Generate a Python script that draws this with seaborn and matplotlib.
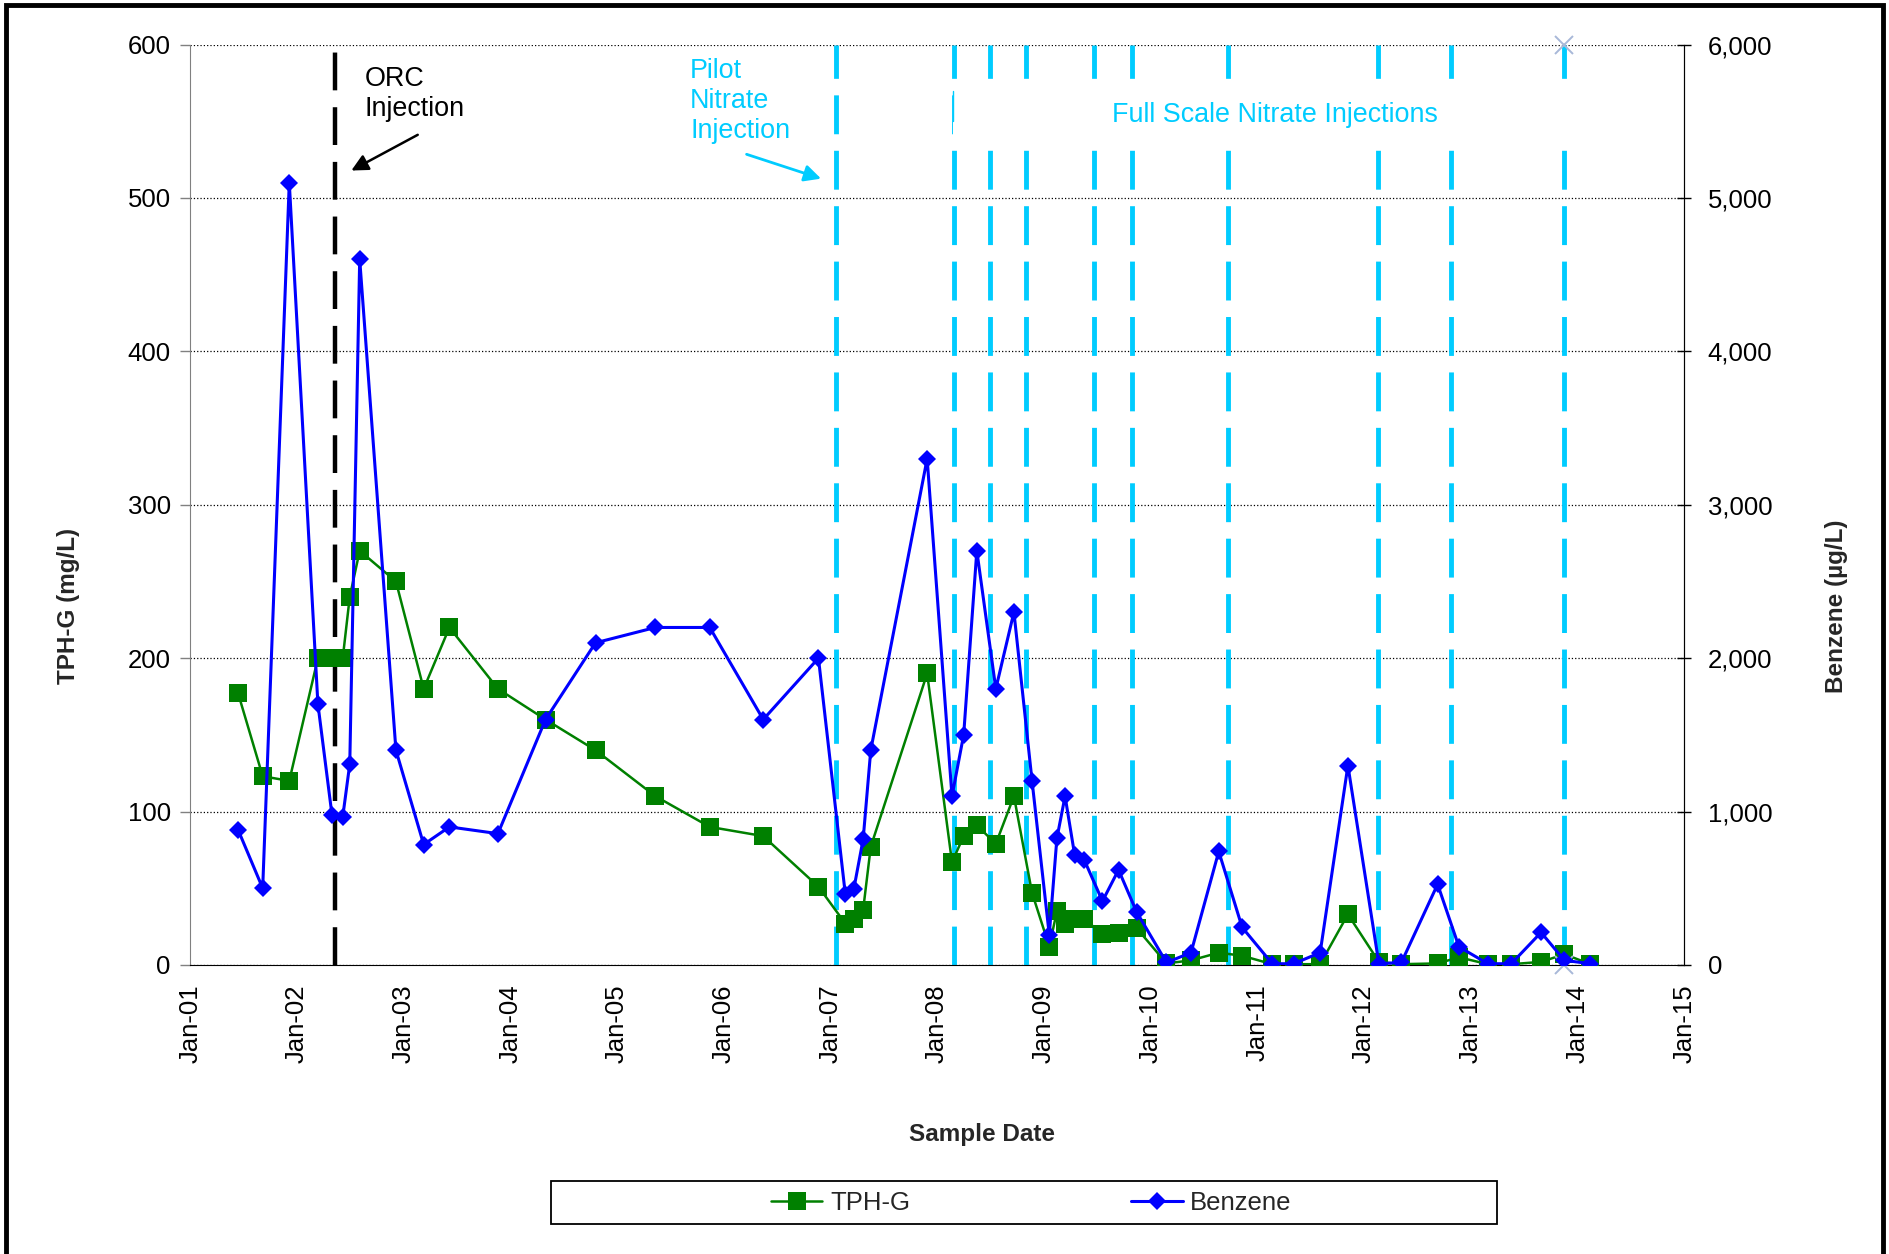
import matplotlib
matplotlib.use("Agg")
import matplotlib.pyplot as plt
import matplotlib.dates as mdates
import matplotlib.ticker as mticker
from matplotlib.lines import Line2D
from matplotlib.patches import Rectangle
import seaborn as sns
import pandas as pd

# sample dates (shared by both analytes)
sample_dates = [
    "2001-06-14", "2001-09-06", "2001-12-06", "2002-03-14", "2002-05-01",
    "2002-06-07", "2002-07-01", "2002-08-04", "2002-12-06", "2003-03-11",
    "2003-06-07", "2003-11-20", "2004-05-01", "2004-10-19", "2005-05-12",
    "2005-11-14", "2006-05-16", "2006-11-21", "2007-02-21", "2007-03-22",
    "2007-04-23", "2007-05-19", "2007-11-28", "2008-02-21", "2008-04-01",
    "2008-05-16", "2008-07-20", "2008-09-20", "2008-11-21", "2009-01-19",
    "2009-02-14", "2009-03-14", "2009-04-16", "2009-05-19", "2009-07-20",
    "2009-09-13", "2009-11-14", "2010-02-24", "2010-05-19", "2010-08-22",
    "2010-11-10", "2011-02-21", "2011-05-05", "2011-08-04", "2011-11-07",
    "2012-02-21", "2012-05-08", "2012-09-09", "2012-11-21", "2013-02-28",
    "2013-05-19", "2013-08-29", "2013-11-17", "2014-02-14",
]

# TPH-G (mg/L), left axis
tph_g = [
    177, 123, 120, 200, 200, 200, 240, 270, 250, 180,
    220, 180, 160, 140, 110, 90, 84, 51, 27, 30,
    36, 77, 190, 67, 84, 91, 79, 110, 47, 12,
    35, 27, 30, 30, 20, 21, 24, 1, 3, 8,
    6, 0.5, 0.5, 0.5, 33, 2, 0.5, 1, 5, 0.5,
    0.5, 2, 7, 0.5,
]

# Benzene (ug/L), right axis
benzene = [
    880, 500, 5100, 1700, 980, 966, 1310, 4600, 1400, 785,
    900, 856, 1600, 2100, 2200, 2200, 1600, 2000, 460, 495,
    820, 1400, 3300, 1100, 1500, 2700, 1800, 2300, 1200, 196,
    825, 1100, 715, 683, 416, 620, 345, 16, 80, 740,
    245, 8, 8, 80, 1300, 8, 16, 526, 118, 8,
    8, 212, 30, 8,
]

orc_date = "2002-05-10"
pilot_date = "2007-01-19"
full_scale_dates = [
    "2008-02-27", "2008-07-01", "2008-11-01", "2009-06-20", "2009-10-30",
    "2010-09-24", "2012-02-18", "2012-10-24", "2013-11-14",
]
last_injection_date = "2013-11-14"
x_mark_values = [6000, 0]

year_ticks = [f"{y}-01-01" for y in range(2001, 2016)]

df = pd.DataFrame({
    "date": pd.to_datetime(sample_dates),
    "TPH-G": tph_g,
    "Benzene": benzene,
})

sns.set_style("white")
plt.rcParams["font.family"] = ["Liberation Sans", "DejaVu Sans"]

fig = plt.figure(figsize=(18.89, 12.54), dpi=100)
ax = fig.add_axes([0.1007, 0.2305, 0.7909, 0.734])
ax2 = ax.twinx()

cyan = "#00CCFF"
green = "#008000"
blue = "#0000FF"
cyan_dash = (0, (8, 3.4))

# injection lines
ax.axvline(pd.Timestamp(orc_date), color="black", lw=3.2,
           linestyle=(0, (8.5, 3.8)), zorder=1)
ax.axvline(pd.Timestamp(pilot_date), color=cyan, lw=3.5,
           linestyle=cyan_dash, zorder=1)
for d in full_scale_dates:
    ax.axvline(pd.Timestamp(d), color=cyan, lw=3.5,
               linestyle=cyan_dash, zorder=1)

# white label box for the full-scale annotation
box_x0 = mdates.date2num(pd.Timestamp("2008-02-24"))
box_x1 = mdates.date2num(pd.Timestamp("2014-03-01"))
ax.add_patch(Rectangle((box_x0, 538), box_x1 - box_x0, 32,
                       facecolor="white", edgecolor="none", zorder=1.5))

sns.lineplot(data=df, x="date", y="TPH-G", ax=ax, color=green,
             marker="s", markersize=12.5, markeredgewidth=0, lw=1.8,
             label="TPH-G", legend=False, zorder=3)
sns.lineplot(data=df, x="date", y="Benzene", ax=ax2, color=blue,
             marker="D", markersize=9.5, markeredgewidth=0, lw=2.2,
             label="Benzene", legend=False, zorder=4)
ax2.plot([pd.Timestamp(last_injection_date)] * 2, x_mark_values,
         linestyle="none", marker="x", markersize=13, mew=1.4,
         color="#A8B8D8", clip_on=False)

ax.set_xlim(pd.Timestamp(year_ticks[0]), pd.Timestamp(year_ticks[-1]))
ax.set_ylim(0, 600)
ax2.set_ylim(0, 6000)
ax.set_yticks(range(0, 601, 100))
ax2.set_yticks(range(0, 6001, 1000))
ax2.yaxis.set_major_formatter(mticker.StrMethodFormatter("{x:,.0f}"))

ax.set_xticks(pd.to_datetime(year_ticks))
ax.xaxis.set_major_formatter(mdates.DateFormatter("%b-%y"))
plt.setp(ax.get_xticklabels(), rotation=90)

ax.grid(axis="y", color="black", linestyle=":", lw=0.9)
ax.set_axisbelow(True)

for a in (ax, ax2):
    a.spines["top"].set_visible(False)
ax.spines["left"].set_color("#808080")
ax.spines["bottom"].set_color("black")
ax2.spines["right"].set_color("black")
ax2.spines["left"].set_visible(False)
ax2.spines["bottom"].set_visible(False)

ax.tick_params(axis="both", labelsize=18.5, direction="out", length=7,
               width=1, colors="black", pad=7)
ax.tick_params(axis="y", color="#808080", labelcolor="black")
ax2.tick_params(axis="y", labelsize=18.5, direction="inout", length=10,
                width=1, colors="black", pad=12)

ax.set_xlabel("Sample Date", fontsize=17.5, fontweight="bold")
ax.set_ylabel("TPH-G (mg/L)", fontsize=17.5, fontweight="bold")
ax2.set_ylabel("Benzene (µg/L)", fontsize=17.5, fontweight="bold")
ax.xaxis.set_label_coords(0.53, -0.1715)
ax.yaxis.set_label_coords(-0.074, 0.39)
ax2.yaxis.set_label_coords(1.094, 0.39)

# annotations
ax.text(pd.Timestamp("2002-08-20"), 586, "ORC\nInjection", fontsize=19.4,
        va="top", ha="left", color="black", linespacing=1.2, zorder=5)
ax.annotate("", xy=(pd.Timestamp("2002-06-28"), 517),
            xytext=(pd.Timestamp("2003-02-27"), 542),
            arrowprops=dict(arrowstyle="-|>", color="black", lw=1.8,
                            mutation_scale=25))
ax.text(pd.Timestamp("2005-09-08"), 591, "Pilot\nNitrate\nInjection",
        fontsize=19.4, va="top", ha="left", color=cyan, linespacing=1.2,
        zorder=5)
ax.annotate("", xy=(pd.Timestamp("2006-12-09"), 512),
            xytext=(pd.Timestamp("2006-03-11"), 529),
            arrowprops=dict(arrowstyle="-|>", color=cyan, lw=2,
                            mutation_scale=25))
ax.text(pd.Timestamp("2009-08-20"), 554, "Full Scale Nitrate Injections",
        fontsize=19.4, va="center", ha="left", color=cyan, zorder=5)
ax.plot([pd.Timestamp("2008-02-24")] * 2, [550, 570], color=cyan, lw=1,
        zorder=2)

# legend
handles = [
    Line2D([], [], color=green, marker="s", markersize=12.5,
           markeredgewidth=0, lw=1.8, label="TPH-G"),
    Line2D([], [], color=blue, marker="D", markersize=9.5,
           markeredgewidth=0, lw=2.2, label="Benzene"),
]
fig.legend(handles=handles, loc="center", ncol=2, fontsize=18.5,
           bbox_to_anchor=(0.546, 0.041), frameon=False, columnspacing=8.6,
           handlelength=2, handletextpad=0.3)
fig.add_artist(Rectangle((0.2915, 0.024), 0.501, 0.0346,
                         transform=fig.transFigure, fill=False,
                         edgecolor="black", lw=1.3))

# outer frame
fig.add_artist(Rectangle((0.003, -0.01), 0.994, 1.006,
                         transform=fig.transFigure, fill=False,
                         edgecolor="black", lw=3.5))

fig.savefig("out.png", dpi=100)
